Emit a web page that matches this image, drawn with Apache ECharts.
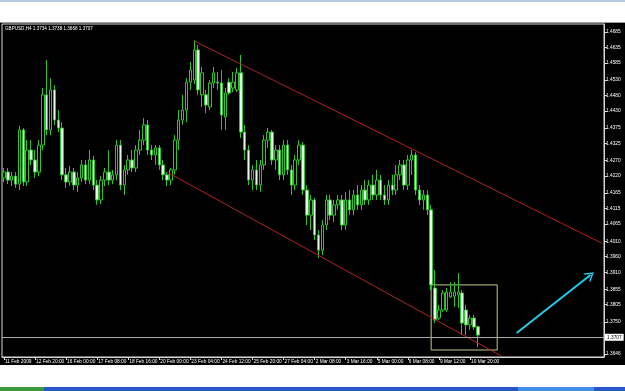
<!DOCTYPE html>
<html><head><meta charset="utf-8">
<style>html,body{margin:0;padding:0;background:#fff;}#c{width:625px;height:391px;}</style>
<script src="https://cdn.jsdelivr.net/npm/echarts@6/dist/echarts.min.js"></script>
</head><body><div id="c"></div>
<script>
const INFO_TEXT = 'GBPUSD,H4 1.3734 1.3738 1.3668 1.3707';
const TIME_LABELS = ['11 Feb 2009','12 Feb 20:00','16 Feb 00:00','17 Feb 08:00','18 Feb 16:00','20 Feb 00:00','23 Feb 04:00','24 Feb 12:00','25 Feb 20:00','27 Feb 04:00','2 Mar 08:00','3 Mar 16:00','5 Mar 00:00','6 Mar 08:00','9 Mar 12:00','10 Mar 20:00'];
const LABEL_EVERY = 8;
const SLOT_COUNT = 155;
const PRICE_TICKS = [1.4685,1.4635,1.4585,1.4530,1.4480,1.4430,1.4375,1.4325,1.4270,1.4220,1.4165,1.4115,1.4065,1.4010,1.3960,1.3910,1.3855,1.3805,1.3750,1.3646];
const AXIS_MIN = 1.36364, AXIS_MAX = 1.47106;
const OPEN = [1.4214,1.4233,1.4207,1.4220,1.4194,1.4369,1.4201,1.4304,1.4272,1.4233,
1.4320,1.4482,1.4369,1.4498,1.4401,1.4375,1.4224,1.4201,1.4233,1.4191,
1.4214,1.4256,1.4207,1.4272,1.4191,1.4143,1.4207,1.4233,1.4207,1.4224,
1.4320,1.4191,1.4240,1.4272,1.4246,1.4304,1.4336,1.4385,1.4304,1.4288,
1.4311,1.4256,1.4224,1.4207,1.4240,1.4336,1.4401,1.4433,1.4523,1.4530,
1.4627,1.4482,1.4482,1.4443,1.4520,1.4523,1.4520,1.4411,1.4523,1.4504,
1.4498,1.4553,1.4362,1.4304,1.4207,1.4240,1.4191,1.4256,1.4336,1.4362,
1.4272,1.4304,1.4224,1.4320,1.4240,1.4191,1.4272,1.4320,1.4175,1.4094,
1.4143,1.4030,1.3981,1.4062,1.4143,1.4094,1.4127,1.4143,1.4062,1.4143,
1.4111,1.4159,1.4127,1.4175,1.4143,1.4191,1.4159,1.4207,1.4159,1.4143,
1.4191,1.4175,1.4224,1.4256,1.4191,1.4272,1.4288,1.4175,1.4143,1.4159,
1.4111,1.3859,1.3762,1.3788,1.3788,1.3830,1.3833,1.3836,1.3843,1.3788,
1.3740,1.3762,1.3734];
const CLOSE = [1.4233,1.4207,1.4220,1.4194,1.4369,1.4201,1.4304,1.4272,1.4233,1.4320,
1.4482,1.4369,1.4498,1.4401,1.4375,1.4224,1.4201,1.4233,1.4191,1.4214,
1.4256,1.4207,1.4272,1.4191,1.4143,1.4207,1.4233,1.4207,1.4224,1.4320,
1.4191,1.4240,1.4272,1.4246,1.4304,1.4336,1.4385,1.4304,1.4288,1.4311,
1.4256,1.4224,1.4207,1.4240,1.4336,1.4401,1.4433,1.4523,1.4562,1.4627,
1.4498,1.4553,1.4449,1.4520,1.4553,1.4520,1.4417,1.4488,1.4488,1.4523,
1.4553,1.4362,1.4304,1.4207,1.4240,1.4191,1.4256,1.4336,1.4362,1.4272,
1.4304,1.4224,1.4320,1.4240,1.4191,1.4272,1.4320,1.4175,1.4094,1.4143,
1.4030,1.3981,1.4062,1.4143,1.4094,1.4127,1.4143,1.4062,1.4143,1.4111,
1.4159,1.4127,1.4175,1.4143,1.4191,1.4159,1.4207,1.4159,1.4143,1.4191,
1.4175,1.4224,1.4256,1.4191,1.4272,1.4288,1.4175,1.4143,1.4159,1.4111,
1.3869,1.3756,1.3788,1.3843,1.3846,1.3846,1.3846,1.3846,1.3746,1.3740,
1.3762,1.3733,1.3707];
const LOW = [1.4201,1.4194,1.4188,1.4182,1.4175,1.4188,1.4188,1.4256,1.4214,1.4220,
1.4304,1.4352,1.4352,1.4385,1.4362,1.4207,1.4182,1.4188,1.4175,1.4169,
1.4201,1.4194,1.4194,1.4175,1.4127,1.4130,1.4188,1.4191,1.4194,1.4207,
1.4175,1.4159,1.4224,1.4233,1.4233,1.4288,1.4320,1.4288,1.4272,1.4256,
1.4240,1.4207,1.4188,1.4191,1.4224,1.4304,1.4385,1.4394,1.4498,1.4517,
1.4482,1.4443,1.4423,1.4433,1.4504,1.4498,1.4369,1.4369,1.4482,1.4491,
1.4491,1.4343,1.4272,1.4191,1.4175,1.4175,1.4169,1.4240,1.4311,1.4256,
1.4240,1.4207,1.4207,1.4224,1.4159,1.4175,1.4256,1.4159,1.4062,1.4046,
1.4014,1.3956,1.3965,1.4046,1.4078,1.4072,1.4111,1.4046,1.4046,1.4094,
1.4094,1.4111,1.4111,1.4127,1.4127,1.4143,1.4143,1.4143,1.4127,1.4127,
1.4159,1.4159,1.4207,1.4175,1.4175,1.4224,1.4159,1.4127,1.4111,1.4094,
1.3852,1.3746,1.3756,1.3782,1.3782,1.3827,1.3798,1.3794,1.3707,1.3707,
1.3724,1.3724,1.3668];
const HIGH = [1.4246,1.4246,1.4233,1.4233,1.4382,1.4375,1.4336,1.4336,1.4304,1.4336,
1.4504,1.4595,1.4536,1.4514,1.4433,1.4394,1.4246,1.4253,1.4246,1.4233,
1.4272,1.4272,1.4304,1.4285,1.4207,1.4220,1.4246,1.4304,1.4240,1.4336,
1.4336,1.4256,1.4288,1.4304,1.4320,1.4369,1.4407,1.4401,1.4320,1.4320,
1.4320,1.4272,1.4233,1.4246,1.4352,1.4433,1.4482,1.4536,1.4588,1.4659,
1.4643,1.4572,1.4498,1.4530,1.4572,1.4556,1.4562,1.4504,1.4536,1.4556,
1.4569,1.4611,1.4385,1.4320,1.4256,1.4272,1.4272,1.4352,1.4375,1.4369,
1.4320,1.4320,1.4336,1.4336,1.4256,1.4288,1.4336,1.4330,1.4191,1.4159,
1.4149,1.4046,1.4078,1.4159,1.4159,1.4143,1.4159,1.4159,1.4169,1.4175,
1.4175,1.4191,1.4191,1.4207,1.4207,1.4224,1.4240,1.4224,1.4191,1.4207,
1.4224,1.4256,1.4272,1.4272,1.4288,1.4304,1.4297,1.4191,1.4175,1.4175,
1.4127,1.3917,1.3804,1.3852,1.3859,1.3878,1.3878,1.3907,1.3852,1.3804,
1.3772,1.3772,1.3738];
const LAST_PRICE = 1.3707;
const UPPER_TREND = [[49, 1.4656], [154, 1.4003]];
const LOWER_TREND = [[42, 1.4233], [128, 1.3640]];
const BOX_X = [110, 127];
const BOX_Y = [1.3869, 1.3659];
const ARROW = [[132, 1.3714], [151, 1.3901]];

const FONT = 'Liberation Sans';
const cats = [];
for (let i = 0; i < SLOT_COUNT; i++) cats.push(String(i));
const isLabelled = (i) => i % LABEL_EVERY === 0 && i / LABEL_EVERY < TIME_LABELS.length;
const candles = OPEN.map((o, i) => [o, CLOSE[i], LOW[i], HIGH[i]]);

const chart = echarts.init(document.getElementById('c'), null, {renderer: 'canvas'});
chart.setOption({
  animation: false,
  backgroundColor: 'transparent',
  graphic: [
    {type: 'rect', z: -10, silent: true, shape: {x: 0, y: 0, width: 625, height: 391}, style: {fill: '#ffffff'}},
    {type: 'rect', z: -10, silent: true, shape: {x: 0, y: 0, width: 625, height: 2}, style: {fill: '#b9c9e2'}},
    {type: 'rect', z: -10, silent: true, shape: {x: 0, y: 22, width: 625, height: 1}, style: {fill: '#a0a0a0'}},
    {type: 'rect', z: -10, silent: true, shape: {x: 0, y: 23, width: 625, height: 342}, style: {fill: '#000000'}},
    {type: 'rect', z: -10, silent: true, shape: {x: 0, y: 387, width: 625, height: 4}, style: {fill: '#2756c8'}},
    {type: 'rect', z: -10, silent: true, shape: {x: 0, y: 387, width: 44, height: 4}, style: {fill: '#3a9a3a'}},
    {type: 'rect', z: -10, silent: true, shape: {x: 518, y: 387, width: 76, height: 4}, style: {fill: '#3f8fe6'}}
  ],
  title: {
    text: INFO_TEXT, left: 5, top: 26, padding: 0,
    textStyle: {color: '#ffffff', fontSize: 4.6, fontWeight: 'normal', fontFamily: FONT}
  },
  grid: {left: 2, right: 21, top: 24, bottom: 34, show: true, borderColor: '#d8d8d8', borderWidth: 1, backgroundColor: '#000000'},
  xAxis: {
    type: 'category', data: cats, boundaryGap: true,
    axisLine: {show: true, lineStyle: {color: '#d8d8d8', width: 1}},
    axisTick: {show: true, alignWithLabel: true, length: 3, interval: (i) => isLabelled(i), lineStyle: {color: '#d8d8d8'}},
    axisLabel: {
      interval: (i) => isLabelled(i), align: 'left', margin: 2, padding: [0, 0, 0, 1],
      color: '#ffffff', fontSize: 4.8, fontFamily: FONT,
      formatter: (v, i) => isLabelled(i) ? TIME_LABELS[i / LABEL_EVERY] : ''
    },
    splitLine: {show: false}
  },
  yAxis: {
    type: 'value', position: 'right', min: AXIS_MIN, max: AXIS_MAX, scale: true,
    axisLine: {show: true, lineStyle: {color: '#d8d8d8'}},
    axisTick: {show: true, length: 3, customValues: PRICE_TICKS, lineStyle: {color: '#d8d8d8'}},
    axisLabel: {customValues: PRICE_TICKS, margin: 2, color: '#ffffff', fontSize: 4.8, fontFamily: FONT, formatter: (v) => v.toFixed(4)},
    splitLine: {show: false}
  },
  series: [
    {
      type: 'candlestick', data: candles, barWidth: 3,
      itemStyle: {color: '#000000', color0: '#e4fce4', borderColor: '#2fc42f', borderColor0: '#2fc42f', borderWidth: 1},
      markLine: {
        silent: true, symbol: ['none', 'none'],
        lineStyle: {color: '#a8a8a8', type: 'solid', width: 1},
        label: {show: true, position: 'end', distance: 1, formatter: () => LAST_PRICE.toFixed(4),
          backgroundColor: '#ffffff', color: '#000000', fontSize: 4.8, fontFamily: FONT, padding: [1, 2]},
        data: [{yAxis: LAST_PRICE}]
      },
      markArea: {
        silent: true,
        itemStyle: {color: 'rgba(0,0,0,0)', borderColor: '#c6c68a', borderWidth: 1},
        data: [[{coord: [BOX_X[0], BOX_Y[0]]}, {coord: [BOX_X[1], BOX_Y[1]]}]]
      }
    },
    {type: 'line', data: UPPER_TREND, symbol: 'none', lineStyle: {color: '#b02222', width: 1}, z: 3},
    {type: 'line', data: LOWER_TREND, symbol: 'none', lineStyle: {color: '#b02222', width: 1}, z: 3},
    {
      type: 'line', data: [],
      markLine: {
        silent: true, symbol: ['none', 'path://M0,0 L5,-8 L10,0 L8.4,0 L5,-5.4 L1.6,0 Z'], symbolSize: [11, 9],
        lineStyle: {color: '#22ccee', width: 2, type: 'solid'},
        label: {show: false},
        data: [[{coord: ARROW[0]}, {coord: ARROW[1]}]]
      }
    }
  ]
});
</script></body></html>
